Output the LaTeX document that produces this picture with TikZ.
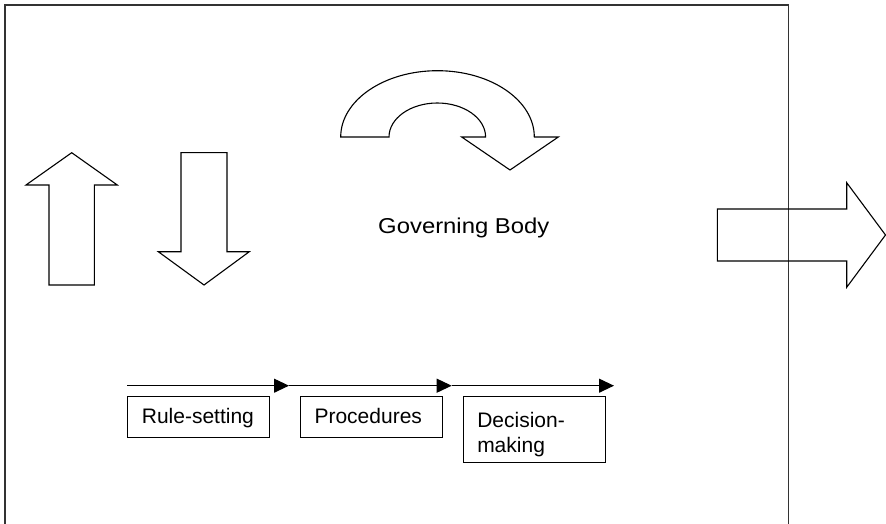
\documentclass[tikz,border=0pt]{standalone}
\usepackage{fontspec}
\setmainfont{Liberation Sans}
\usetikzlibrary{arrows.meta}
\tikzset{
  blockarrow/.style={draw=black, line width=1.1pt, line join=miter},
  frameline/.style={draw=black!80, line width=1.5pt},
  stepbox/.style={draw=black, line width=1.1pt, anchor=north west, align=left,
    inner xsep=14pt, inner ysep=0pt, minimum height=40.7pt, text width=114pt,
    font=\fontsize{21}{25}\selectfont},
  flow/.style={draw=black, line width=1.1pt, -{Triangle[length=15pt,width=14pt]}},
}
\begin{document}
\begin{tikzpicture}[x=1pt,y=-1pt]
\useasboundingbox (0,0) rectangle (886,524);
% outer frame
\draw[frameline] (5,530) -- (5,5) -- (788.3,5) -- (788.3,530);
% up arrow
\draw[blockarrow] (71.7,152.7) -- (117.3,185) -- (94.3,185) -- (94.3,285) -- (49,285) -- (49,185) -- (26,185) -- cycle;
% down arrow
\draw[blockarrow] (181,152.7) -- (227,152.7) -- (227,251.7) -- (249.3,251.7) -- (204,285) -- (158.3,251.7) -- (181,251.7) -- cycle;
% right arrow
\draw[blockarrow] (717.3,209) -- (846.7,209) -- (846.7,182.7) -- (885.5,235) -- (846.7,287.3) -- (846.7,261) -- (717.3,261) -- cycle;
% curved arrow
\draw[blockarrow] (389,137) -- (340.7,137) arc[start angle=180, end angle=0, x radius=96.8pt, y radius=66.3pt]
  -- (558.3,137) -- (510,170) -- (461.7,137) -- (485.6,137)
  arc[start angle=0, end angle=180, x radius=48.3pt, y radius=34pt] -- cycle;
% label
\node[font=\fontsize{21.5}{26}\selectfont, anchor=base] (gb) at (463.8,233.3) {\scalebox{1.11}[1]{Governing Body}};
% boxes
\node[stepbox, text height=17pt, text depth=3.4pt] (rs) at (127.3,396) {Rule-setting};
\node[stepbox, text height=17pt, text depth=3.4pt] (pr) at (300,396) {Procedures};
\node[stepbox, minimum height=66.3pt] (dm) at (462.7,396) {\rule{0pt}{25pt}Decision-\\making};
% flow arrows
\coordinate (a0) at (127.3,385.7);
\coordinate (a1) at (289,385.7);
\coordinate (a2) at (451.7,385.7);
\coordinate (a3) at (614,385.7);
\draw[flow] (a0) -- (a1);
\draw[flow] (a1) -- (a2);
\draw[flow] (a2) -- (a3);
\end{tikzpicture}
\end{document}
